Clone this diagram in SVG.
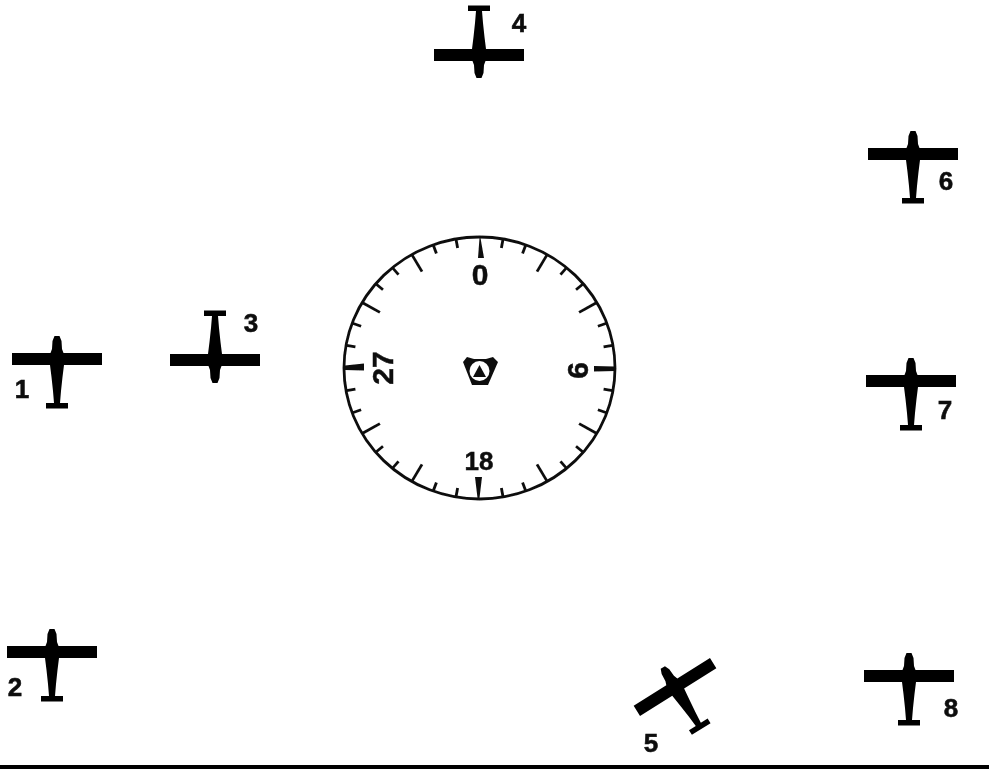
<svg xmlns="http://www.w3.org/2000/svg" width="989" height="769" viewBox="0 0 989 769">
<style>
.lbl{font-family:"Liberation Sans",Arial,sans-serif;font-weight:700;font-size:26px;fill:#111;stroke:#111;stroke-width:.6;text-anchor:middle}
.dial{font-family:"Liberation Sans",Arial,sans-serif;font-weight:700;font-size:30px;fill:#111;stroke:#111;stroke-width:.5;text-anchor:middle}
.tk{stroke:#111;stroke-width:2.8;fill:none;stroke-linecap:butt}
</style>
<defs>
<filter id="scan" x="0" y="0" width="100%" height="100%"><feGaussianBlur stdDeviation="0.7"/></filter>
<g id="plane">
<path fill="#050505" d="M-45,-6 L-6.5,-6 L-5,-10 L-4.5,-18 L-2.5,-23 L2.5,-23 L4.5,-18 L5,-10 L6.5,-6 L45,-6 L45,6 L7,6 L5.5,18 L4,32 L3,44 L11,44 L11,49.5 L-11,49.5 L-11,44 L-3,44 L-4,32 L-5.5,18 L-7,6 L-45,6 Z"/>
</g>
</defs>
<rect width="989" height="769" fill="#fff"/>
<g filter="url(#scan)">
<g id="compass">
<ellipse cx="479.5" cy="368" rx="135.5" ry="131" fill="none" stroke="#111" stroke-width="2.8"/>
<g class="tk" id="ticks" transform="translate(479.5 368) scale(1 0.967)">
<path transform="rotate(10)" d="M0,-135V-126"/>
<path transform="rotate(20)" d="M0,-135V-126"/>
<path transform="rotate(30)" d="M0,-135V-115"/>
<path transform="rotate(40)" d="M0,-135V-126"/>
<path transform="rotate(50)" d="M0,-135V-126"/>
<path transform="rotate(60)" d="M0,-135V-115"/>
<path transform="rotate(70)" d="M0,-135V-126"/>
<path transform="rotate(80)" d="M0,-135V-126"/>
<path transform="rotate(100)" d="M0,-135V-126"/>
<path transform="rotate(110)" d="M0,-135V-126"/>
<path transform="rotate(120)" d="M0,-135V-115"/>
<path transform="rotate(130)" d="M0,-135V-126"/>
<path transform="rotate(140)" d="M0,-135V-126"/>
<path transform="rotate(150)" d="M0,-135V-115"/>
<path transform="rotate(160)" d="M0,-135V-126"/>
<path transform="rotate(170)" d="M0,-135V-126"/>
<path transform="rotate(190)" d="M0,-135V-126"/>
<path transform="rotate(200)" d="M0,-135V-126"/>
<path transform="rotate(210)" d="M0,-135V-115"/>
<path transform="rotate(220)" d="M0,-135V-126"/>
<path transform="rotate(230)" d="M0,-135V-126"/>
<path transform="rotate(240)" d="M0,-135V-115"/>
<path transform="rotate(250)" d="M0,-135V-126"/>
<path transform="rotate(260)" d="M0,-135V-126"/>
<path transform="rotate(280)" d="M0,-135V-126"/>
<path transform="rotate(290)" d="M0,-135V-126"/>
<path transform="rotate(300)" d="M0,-135V-115"/>
<path transform="rotate(310)" d="M0,-135V-126"/>
<path transform="rotate(320)" d="M0,-135V-126"/>
<path transform="rotate(330)" d="M0,-135V-115"/>
<path transform="rotate(340)" d="M0,-135V-126"/>
<path transform="rotate(350)" d="M0,-135V-126"/>
</g>
<path fill="#111" d="M480.5,238 L484,258 L478,258 L479.5,238 Z M477.5,498 L475,477 L482,477 L479.5,498 Z M345,365.5 L364,363.5 L364,370.5 L345,370 Z M615,366.5 L594,366 L594,371.5 L615,371 Z"/>
<text class="dial" x="480" y="285" style="font-size:30px">0</text>
<text class="dial" x="479" y="470" style="font-size:26px">18</text>
<text class="dial" transform="translate(393 368) rotate(-90)">27</text>
<text class="dial" transform="translate(588 370.5) rotate(-90)">6</text>
<path fill="#111" d="M463,362 L467,357 L474,359 L486,359 L493,357 L498,362 L488,385 L472,385 Z"/>
<circle cx="479.5" cy="371" r="10" fill="#fff"/>
<path fill="#111" d="M479.5,365 L486,377 L473,377 Z"/>
</g>
<g id="plane-1"><use href="#plane" transform="translate(57 359)"/><text class="lbl" x="22" y="398">1</text></g>
<g id="plane-2"><use href="#plane" transform="translate(52 652)"/><text class="lbl" x="15" y="696">2</text></g>
<g id="plane-3"><use href="#plane" transform="translate(215 360) rotate(180)"/><text class="lbl" x="251" y="332">3</text></g>
<g id="plane-4"><use href="#plane" transform="translate(479 55) rotate(180)"/><text class="lbl" x="519" y="32">4</text></g>
<g id="plane-5"><use href="#plane" transform="translate(675 687) rotate(-32)"/><text class="lbl" x="651" y="752">5</text></g>
<g id="plane-6"><use href="#plane" transform="translate(913 154)"/><text class="lbl" x="946" y="190">6</text></g>
<g id="plane-7"><use href="#plane" transform="translate(911 381)"/><text class="lbl" x="945" y="419">7</text></g>
<g id="plane-8"><use href="#plane" transform="translate(909 676)"/><text class="lbl" x="951" y="717">8</text></g>
<rect id="rule" x="0" y="765" width="989" height="4" fill="#050505"/>
</g>
</svg>
